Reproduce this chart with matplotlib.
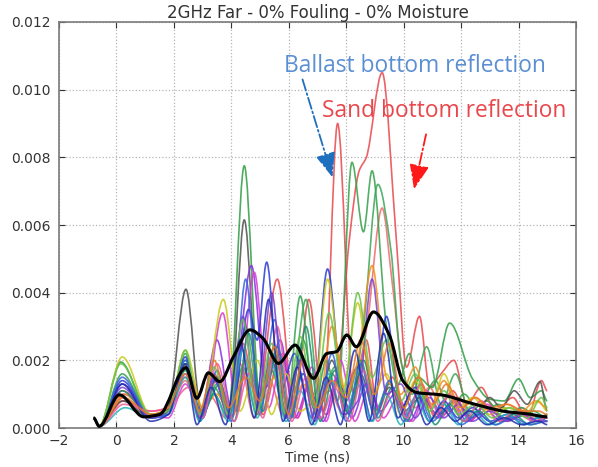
import numpy as np
import matplotlib
matplotlib.use("Agg")
import matplotlib.pyplot as plt
from matplotlib.path import Path
from matplotlib.patches import PathPatch

# ---- data: envelope amplitude traces (values in units of 1e-3) ----
# each trace: colour, times of successive extrema (ns), amplitudes at those times
trace_colors = [
    "#e8474c", "#e8474c", "#ef6a6a", "#2f9e44", "#35a04a", "#3aa655",
    "#505050", "#8a2be2", "#d63bd0", "#2a3bd6", "#c9c91a", "#f0901e",
    "#22b3b8", "#168f6f", "#3366dd", "#ee5d9a", "#7b3fd0", "#66c24a",
    "#1d2fb0", "#e87a2a",
]

t01 = [-0.8, -0.6, 0.2, 1.2, 1.7, 2.45, 2.9, 3.4, 3.9, 4.4, 4.9, 5.6, 6.2, 6.7, 7.2, 7.7, 8.25, 8.7, 9.1, 9.6, 10.1, 10.6, 11.1, 11.7, 12.3, 12.9, 13.5, 14.1, 14.6, 15.0]
v01 = [0.3, 0.05, 1.1, 0.4, 0.5, 1.9, 0.4, 1.6, 0.5, 2.5, 0.8, 4.4, 0.6, 3.8, 0.5, 9.0, 1.0, 2.6, 0.5, 1.5, 0.4, 1.3, 0.3, 1.1, 0.2, 0.8, 0.2, 0.6, 0.2, 0.4]

t02 = [-0.8, -0.6, 0.25, 1.2, 1.8, 2.4, 2.9, 3.5, 4.0, 4.6, 5.1, 5.7, 6.3, 6.8, 7.3, 7.7, 8.1, 8.45, 8.7, 9.25, 9.75, 10.1, 10.55, 10.9, 11.3, 11.75, 12.2, 12.7, 13.2, 13.8, 14.3, 14.8, 15.0]
v02 = [0.3, 0.05, 0.8, 0.5, 0.6, 1.5, 0.5, 1.4, 0.3, 1.8, 0.4, 2.2, 0.3, 1.6, 0.4, 1.5, 5.5, 7.6, 8.0, 10.5, 5.5, 1.8, 3.3, 1.2, 1.6, 2.0, 0.7, 1.2, 0.5, 0.9, 0.3, 1.4, 1.1]

t03 = [-0.8, -0.6, 0.2, 1.2, 1.8, 2.4, 2.9, 3.3, 3.8, 4.3, 4.8, 5.3, 5.8, 6.4, 6.9, 7.4, 7.9, 8.3, 8.75, 9.25, 9.6, 9.95, 10.4, 10.9, 11.4, 11.9, 12.4, 13.0, 13.6, 14.2, 14.7, 15.0]
v03 = [0.3, 0.05, 0.9, 0.3, 0.5, 1.4, 0.4, 0.9, 0.3, 1.9, 0.3, 1.5, 0.4, 2.0, 0.3, 1.1, 0.4, 0.9, 3.2, 6.5, 4.3, 1.8, 0.6, 1.2, 0.4, 0.9, 0.3, 0.6, 0.2, 0.5, 0.2, 0.3]

t04 = [-0.8, -0.6, 0.15, 1.15, 1.7, 2.4, 2.95, 3.4, 3.9, 4.45, 5.0, 5.5, 6.0, 6.5, 7.0, 7.5, 8.0, 8.5, 9.0, 9.5, 10.0, 10.5, 11.0, 11.6, 12.4, 13.0, 13.5, 14.0, 14.4, 14.8, 15.0]
v04 = [0.3, 0.05, 1.95, 0.4, 0.5, 2.0, 0.4, 1.2, 0.5, 7.75, 0.8, 2.4, 0.6, 2.6, 0.5, 1.6, 0.8, 2.0, 0.5, 1.3, 0.6, 1.5, 1.2, 3.1, 1.45, 0.85, 0.8, 1.45, 0.9, 1.1, 0.8]

t05 = [-0.8, -0.6, 0.2, 1.2, 1.7, 2.35, 2.9, 3.4, 3.9, 4.4, 4.9, 5.4, 5.9, 6.4, 6.9, 7.3, 7.7, 8.2, 8.6, 8.9, 9.4, 9.8, 10.2, 10.6, 11.1, 11.6, 12.1, 12.7, 13.3, 13.9, 14.5, 15.0]
v05 = [0.3, 0.05, 1.6, 0.3, 0.4, 1.9, 0.5, 1.0, 0.3, 1.8, 0.4, 1.7, 0.3, 3.9, 0.6, 2.0, 0.8, 7.85, 5.8, 7.6, 3.0, 1.3, 2.2, 0.8, 1.4, 0.5, 1.0, 0.4, 0.7, 0.3, 0.5, 0.3]

t06 = [-0.8, -0.6, 0.2, 1.2, 1.8, 2.4, 2.9, 3.5, 4.0, 4.5, 5.0, 5.5, 6.0, 6.6, 7.1, 7.6, 8.1, 8.6, 9.1, 9.55, 9.9, 10.3, 10.8, 11.3, 11.8, 12.3, 12.9, 13.5, 14.1, 14.7, 15.0]
v06 = [0.3, 0.05, 1.3, 0.3, 0.5, 2.2, 0.3, 1.3, 0.5, 3.0, 0.6, 2.2, 0.5, 3.8, 0.7, 1.8, 0.6, 3.0, 7.2, 5.3, 2.0, 1.0, 2.4, 0.7, 1.6, 0.5, 0.8, 0.3, 0.6, 0.3, 0.4]

t07 = [-0.8, -0.6, 0.2, 1.2, 1.8, 2.42, 2.95, 3.5, 3.95, 4.45, 4.95, 5.4, 5.9, 6.5, 7.0, 7.5, 8.0, 8.5, 9.0, 9.5, 10.0, 10.6, 11.2, 11.8, 12.4, 13.0, 13.4, 13.85, 14.3, 14.75, 15.0]
v07 = [0.3, 0.05, 0.8, 0.3, 0.6, 4.1, 0.5, 1.5, 0.6, 6.15, 0.9, 2.0, 0.5, 1.6, 0.4, 2.0, 0.5, 1.6, 0.4, 1.2, 0.5, 0.9, 0.4, 0.8, 0.3, 0.9, 0.6, 1.1, 0.7, 1.37, 0.5]

t08 = [-0.8, -0.6, 0.2, 1.2, 1.8, 2.4, 2.9, 3.5, 4.0, 4.7, 5.2, 5.7, 6.2, 6.7, 7.2, 7.7, 8.2, 8.7, 9.2, 9.7, 10.2, 10.7, 11.2, 11.7, 12.2, 12.8, 13.4, 14.0, 14.6, 15.0]
v08 = [0.3, 0.05, 1.3, 0.3, 0.4, 1.6, 0.4, 2.6, 0.6, 4.8, 1.2, 2.6, 0.3, 1.2, 0.2, 1.5, 0.3, 1.3, 0.5, 1.0, 0.2, 0.9, 0.3, 0.8, 0.2, 0.6, 0.2, 0.5, 0.2, 0.3]

t09 = [-0.8, -0.6, 0.25, 1.2, 1.8, 2.4, 3.0, 3.7, 4.2, 4.8, 5.3, 5.8, 6.3, 6.8, 7.3, 7.8, 8.3, 8.8, 9.3, 9.8, 10.3, 10.8, 11.3, 11.8, 12.3, 12.9, 13.5, 14.1, 14.6, 15.0]
v09 = [0.3, 0.05, 1.0, 0.4, 0.3, 1.3, 0.3, 3.4, 0.5, 4.6, 0.6, 2.2, 0.3, 1.8, 0.2, 2.0, 0.2, 1.2, 0.3, 0.9, 0.2, 1.1, 0.3, 0.9, 0.2, 0.7, 0.2, 0.4, 0.2, 0.2]

t10 = [-0.8, -0.6, 0.2, 1.2, 1.8, 2.4, 2.9, 3.4, 4.0, 4.6, 4.9, 5.23, 5.7, 6.2, 6.8, 7.35, 7.9, 8.4, 8.9, 9.4, 9.9, 10.4, 10.9, 11.4, 11.9, 12.4, 13.0, 13.6, 14.2, 14.7, 15.0]
v10 = [0.3, 0.05, 1.4, 0.3, 0.5, 2.1, 0.2, 1.4, 0.3, 3.5, 2.6, 4.9, 1.0, 2.2, 0.3, 4.7, 1.0, 1.8, 0.2, 3.3, 0.6, 1.2, 0.2, 0.8, 0.3, 0.6, 0.2, 0.4, 0.1, 0.3, 0.2]

t11 = [-0.8, -0.6, 0.2, 1.2, 1.8, 2.4, 3.0, 3.72, 4.3, 4.9, 5.4, 5.9, 6.4, 6.9, 7.35, 7.9, 8.4, 8.9, 9.4, 9.9, 10.4, 10.9, 11.4, 11.9, 12.4, 13.0, 13.6, 14.2, 14.7, 15.0]
v11 = [0.3, 0.05, 2.1, 0.4, 0.5, 2.3, 0.6, 3.8, 0.5, 2.0, 0.4, 1.6, 0.5, 1.0, 4.4, 1.2, 3.7, 1.0, 1.6, 0.4, 1.4, 0.5, 1.6, 0.6, 0.9, 0.4, 0.6, 0.4, 0.8, 0.5]

t12 = [-0.8, -0.6, 0.25, 1.2, 1.8, 2.45, 3.0, 3.5, 4.0, 4.5, 5.0, 5.5, 6.0, 6.5, 7.0, 7.5, 8.0, 8.4, 8.9, 9.4, 9.9, 10.4, 10.9, 11.4, 11.9, 12.5, 13.0, 13.6, 14.1, 14.6, 15.0]
v12 = [0.3, 0.05, 1.0, 0.4, 0.5, 1.8, 0.6, 1.0, 0.3, 2.0, 0.4, 1.5, 0.3, 1.3, 0.4, 3.0, 1.0, 2.0, 4.8, 1.5, 1.0, 1.8, 0.6, 1.4, 0.5, 0.9, 0.5, 0.7, 0.5, 0.8, 0.6]

t13 = [-0.8, -0.6, 0.3, 1.2, 1.8, 2.4, 2.9, 3.4, 3.9, 4.4, 4.9, 5.4, 5.9, 6.4, 6.9, 7.4, 7.9, 8.4, 8.9, 9.4, 9.9, 10.4, 10.9, 11.4, 11.9, 12.4, 13.0, 13.6, 14.2, 14.7, 15.0]
v13 = [0.3, 0.05, 0.6, 0.3, 0.4, 1.5, 0.2, 1.0, 0.2, 2.3, 0.3, 1.9, 0.2, 1.1, 0.1, 1.6, 0.3, 1.3, 0.2, 1.0, 0.1, 0.9, 0.2, 0.7, 0.1, 0.5, 0.1, 0.4, 0.1, 0.3, 0.2]

t14 = [-0.8, -0.6, 0.2, 1.2, 1.8, 2.4, 2.9, 3.6, 4.1, 4.6, 5.1, 5.6, 6.1, 6.6, 7.1, 7.6, 8.1, 8.6, 9.1, 9.6, 10.1, 10.6, 11.1, 11.6, 12.1, 12.6, 13.2, 13.8, 14.4, 15.0]
v14 = [0.3, 0.05, 1.1, 0.3, 0.5, 1.7, 0.3, 1.3, 0.2, 2.8, 0.5, 2.4, 0.3, 3.0, 0.2, 1.7, 0.4, 2.0, 0.3, 1.2, 0.2, 1.0, 0.1, 0.7, 0.2, 0.5, 0.1, 0.4, 0.1, 0.2]

t15 = [-0.8, -0.6, 0.2, 1.2, 1.8, 2.4, 3.0, 3.5, 4.0, 4.5, 5.0, 5.5, 6.0, 6.5, 7.0, 7.5, 8.0, 8.5, 9.0, 9.5, 10.0, 10.5, 11.0, 11.5, 12.0, 12.6, 13.2, 13.8, 14.4, 15.0]
v15 = [0.3, 0.05, 1.5, 0.3, 0.4, 2.0, 0.3, 1.7, 0.2, 4.4, 0.4, 3.2, 0.2, 1.6, 0.3, 2.2, 0.2, 1.9, 0.3, 1.4, 0.2, 1.0, 0.2, 0.6, 0.1, 0.4, 0.1, 0.3, 0.1, 0.2]

t16 = [-0.8, -0.6, 0.25, 1.2, 1.8, 2.5, 3.0, 3.5, 4.1, 4.6, 5.1, 5.6, 6.1, 6.6, 7.1, 7.6, 8.1, 8.6, 9.1, 9.6, 10.1, 10.6, 11.1, 11.6, 12.1, 12.7, 13.3, 13.9, 14.5, 15.0]
v16 = [0.3, 0.05, 0.7, 0.5, 0.6, 1.2, 0.3, 1.9, 0.2, 1.6, 0.3, 3.0, 0.2, 1.5, 0.3, 1.2, 0.2, 1.7, 0.2, 1.1, 0.3, 1.3, 0.4, 1.0, 0.2, 0.8, 0.2, 0.5, 0.2, 0.3]

t17 = [-0.8, -0.6, 0.2, 1.2, 1.8, 2.4, 2.9, 3.4, 3.9, 4.4, 4.9, 5.4, 5.9, 6.4, 6.9, 7.4, 7.9, 8.4, 8.9, 9.4, 9.9, 10.4, 10.9, 11.4, 11.9, 12.4, 13.0, 13.6, 14.2, 14.7, 15.0]
v17 = [0.3, 0.05, 1.2, 0.3, 0.5, 1.8, 0.3, 1.5, 0.3, 3.3, 0.6, 4.0, 0.3, 2.0, 0.2, 1.4, 0.4, 0.8, 4.4, 1.0, 1.3, 0.3, 0.9, 0.3, 0.7, 0.2, 0.5, 0.2, 0.4, 0.2, 0.2]

t18 = [-0.8, -0.6, 0.15, 1.2, 1.8, 2.4, 2.9, 3.4, 3.9, 4.4, 4.9, 5.4, 5.9, 6.4, 6.9, 7.4, 7.9, 8.4, 8.9, 9.4, 9.9, 10.4, 10.9, 11.4, 11.9, 12.5, 13.1, 13.7, 14.3, 14.8, 15.0]
v18 = [0.3, 0.05, 1.9, 0.4, 0.5, 2.3, 0.4, 1.8, 0.4, 3.2, 0.5, 2.5, 0.4, 2.7, 0.6, 3.4, 1.0, 4.0, 1.5, 2.6, 0.8, 1.6, 0.5, 1.1, 0.4, 0.7, 0.3, 0.6, 0.3, 0.9, 0.6]

t19 = [-0.8, -0.6, 0.2, 1.2, 1.8, 2.4, 2.8, 3.3, 3.8, 4.3, 4.8, 5.3, 5.8, 6.3, 6.8, 7.3, 7.8, 8.3, 8.8, 9.3, 9.8, 10.3, 10.8, 11.3, 11.8, 12.3, 12.9, 13.5, 14.1, 14.7, 15.0]
v19 = [0.3, 0.05, 1.3, 0.2, 0.4, 1.9, 0.1, 1.2, 0.1, 2.6, 0.3, 3.8, 0.2, 1.8, 0.1, 1.5, 0.1, 2.3, 0.2, 2.8, 0.3, 1.1, 0.1, 0.6, 0.2, 0.5, 0.1, 0.3, 0.1, 0.2, 0.1]

t20 = [-0.8, -0.6, 0.25, 1.2, 1.8, 2.4, 2.9, 3.4, 3.9, 4.5, 5.0, 5.5, 6.0, 6.5, 7.0, 7.5, 8.0, 8.5, 9.0, 9.5, 10.0, 10.5, 11.0, 11.5, 12.0, 12.5, 13.0, 13.6, 14.2, 14.7, 15.0]
v20 = [0.3, 0.05, 0.9, 0.4, 0.6, 1.6, 0.5, 2.0, 0.6, 1.5, 0.8, 2.4, 0.4, 2.0, 0.6, 1.4, 0.9, 2.6, 1.0, 2.5, 0.6, 1.5, 0.7, 1.3, 0.6, 0.9, 0.6, 0.7, 0.5, 0.5, 0.4]

trace_times = [t01, t02, t03, t04, t05, t06, t07, t08, t09, t10,
               t11, t12, t13, t14, t15, t16, t17, t18, t19, t20]
trace_values = [v01, v02, v03, v04, v05, v06, v07, v08, v09, v10,
                v11, v12, v13, v14, v15, v16, v17, v18, v19, v20]

# average envelope
mean_t = [-0.8, -0.6, 0.1, 0.95, 1.5, 2.42, 2.8, 3.2, 3.6, 4.07, 4.65, 5.1, 5.64, 6.22, 6.86, 7.32, 7.67, 8.02, 8.35, 8.95, 9.5, 9.97, 10.45, 11.3, 12.4, 13.6, 14.3, 15.0]
mean_v = [0.3, 0.05, 0.98, 0.33, 0.4, 1.78, 0.88, 1.63, 1.37, 2.1, 2.9, 2.65, 1.91, 2.45, 1.47, 2.2, 2.26, 2.75, 2.4, 3.43, 2.75, 1.4, 1.05, 0.98, 0.72, 0.48, 0.42, 0.33]

SCALE = 1e-3
title = "2GHz Far - 0% Fouling - 0% Moisture"
xlabel = "Time (ns)"
xticks = [-2, 0, 2, 4, 6, 8, 10, 12, 14, 16]
yticks = [0.000, 0.002, 0.004, 0.006, 0.008, 0.010, 0.012]


def pchip_slopes(x, y):
    """Shape-preserving tangents (zero at local extrema)."""
    x = np.asarray(x, float)
    y = np.asarray(y, float)
    h = np.diff(x)
    d = np.diff(y) / h
    m = np.zeros_like(y)
    for i in range(1, len(y) - 1):
        if d[i - 1] * d[i] > 0:
            w1 = 2 * h[i] + h[i - 1]
            w2 = h[i] + 2 * h[i - 1]
            m[i] = (w1 + w2) / (w1 / d[i - 1] + w2 / d[i])
    return m


def smooth_path(x, y):
    x = np.asarray(x, float)
    y = np.asarray(y, float)
    m = pchip_slopes(x, y)
    verts = [(x[0], y[0])]
    codes = [Path.MOVETO]
    for i in range(len(x) - 1):
        h = x[i + 1] - x[i]
        verts += [(x[i] + h / 3, y[i] + m[i] * h / 3),
                  (x[i + 1] - h / 3, y[i + 1] - m[i + 1] * h / 3),
                  (x[i + 1], y[i + 1])]
        codes += [Path.CURVE4] * 3
    return Path(verts, codes)


fig = plt.figure(figsize=(5.98, 4.67), dpi=100)
ax = fig.add_axes([0.0987, 0.0835, 0.8645, 0.8694])

for col, tt, vv in zip(trace_colors, trace_times, trace_values):
    p = smooth_path(tt, np.asarray(vv) * SCALE)
    ax.add_patch(PathPatch(p, fill=False, edgecolor=col, lw=1.2, alpha=0.85, zorder=2))

ax.add_patch(PathPatch(smooth_path(mean_t, np.asarray(mean_v) * SCALE),
                       fill=False, edgecolor="black", lw=2.2, zorder=5))

ax.set_xlim(-2, 16)
ax.set_ylim(0, 0.012)
ax.set_xticks(xticks)
ax.set_yticks(yticks)
ax.yaxis.set_major_formatter(matplotlib.ticker.FormatStrFormatter("%.3f"))
ax.grid(True, linestyle=":", color="#b5b5b5", lw=0.9)
ax.tick_params(direction="in", top=True, right=True, length=4, colors="#333333",
               labelsize=10, width=0.8)
ax.tick_params(axis="y", pad=6)
ax.tick_params(axis="x", pad=4)
for s in ax.spines.values():
    s.set_color("#7a7a7a")
    s.set_linewidth(1.2)
ax.set_title(title, fontsize=12, color="#333333", pad=3)
ax.set_xlabel(xlabel, fontsize=10, color="#333333", labelpad=2)

# reflection annotations
ax.text(10.39, 0.01053, "Ballast bottom reflection", color="#5b8fd4",
        fontsize=16.4, family="Open Sans", ha="center", va="baseline", zorder=6)
ax.text(11.41, 0.00918, "Sand bottom reflection", color="#e8474c",
        fontsize=16.4, family="Open Sans", ha="center", va="baseline", zorder=6)
ax.annotate("", xy=(7.55, 0.00733), xytext=(6.45, 0.01038),
            arrowprops=dict(arrowstyle="-|>,head_length=1.5,head_width=0.6",
                            color="#1f6fbf", lw=1.3, linestyle="-."), zorder=6)
ax.annotate("", xy=(10.34, 0.00698), xytext=(10.8, 0.00876),
            arrowprops=dict(arrowstyle="-|>,head_length=1.5,head_width=0.6",
                            color="#ff1a1a", lw=1.3, linestyle="-."), zorder=6)

fig.savefig("out.png", dpi=100)
